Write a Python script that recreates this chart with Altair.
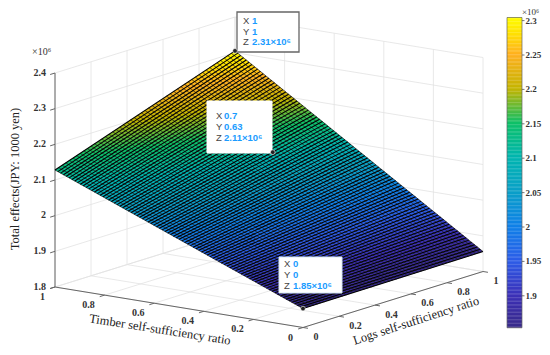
import altair as alt
import pandas as pd

# --- values ---
Z_CORNERS = [[1.853, 1.856], [2.128, 2.305]]  # rows: Timber (Y) 0,1; cols: Logs (X) 0,1
XY_TICKS = [0, 0.2, 0.4, 0.6, 0.8, 1]
XY_LABELS = ["0", "0.2", "0.4", "0.6", "0.8", "1"]
Z_TICKS = [1.8, 1.9, 2.0, 2.1, 2.2, 2.3, 2.4]
Z_LABELS = ["1.8", "1.9", "2", "2.1", "2.2", "2.3", "2.4"]
CB_TICKS = [1.9, 1.95, 2.0, 2.05, 2.1, 2.15, 2.2, 2.25, 2.3]
CB_LABELS = ["1.9", "1.95", "2", "2.05", "2.1", "2.15", "2.2", "2.25", "2.3"]
CMAP_Z = [1.853, 1.9, 1.95, 2.0, 2.05, 2.1, 2.15, 2.2, 2.25, 2.28, 2.305]
CMAP_C = ["#382a88", "#3c30b8", "#2c5ce8", "#0f80e8", "#0a9fc8", "#00b5b0", "#0cc068",
          "#c4b400", "#ffb020", "#ffe000", "#ffff00"]
TIPS_X = [1, 0.7, 0]
TIPS_Y = [1, 0.63, 0]
TIPS_Z = [2.305, 2.11, 1.853]
TIPS_LABEL = ["2.31×10⁶", "2.11×10⁶", "1.85×10⁶"]
TIPS_XS = ["1", "0.7", "0"]
TIPS_YS = ["1", "0.63", "0"]
NX, NY = 50, 88


# --- oblique 3-D view ---
def proj(x, y, z):
    return (303 + 180 * x - 248 * y,
            327.5 - 56 * x - 40.5 * y - (z - 1.8) / 0.6 * 214)


def surf(x, y):
    a, b = Z_CORNERS
    return (a[0] * (1 - x) * (1 - y) + a[1] * x * (1 - y)
            + b[0] * (1 - x) * y + b[1] * x * y)


def cb_y(z):
    return 227 - (z - 2.0) / 0.05 * 34.4


W, H = 534, 339
SX = alt.Scale(domain=[8, 8 + W], range=[0, W])
SY = alt.Scale(domain=[8, 8 + H], range=[0, H])
CS = alt.Scale(domain=CMAP_Z, range=CMAP_C, interpolate="rgb", clamp=True)
CB_L, CB_R = 507, 522


def enc_seg():
    return dict(x=alt.X("x:Q", scale=SX, axis=None), y=alt.Y("y:Q", scale=SY, axis=None),
                x2="x2:Q", y2="y2:Q")


def segs(rows, color, width):
    df = pd.DataFrame(rows, columns=["x", "y", "x2", "y2"])
    return alt.Chart(df).mark_rule(color=color, strokeWidth=width).encode(**enc_seg())


def texts(rows, **mark):
    df = pd.DataFrame(rows, columns=["x", "y", "t"])
    return alt.Chart(df).mark_text(**mark).encode(
        x=alt.X("x:Q", scale=SX, axis=None), y=alt.Y("y:Q", scale=SY, axis=None), text="t:N")


grid = []
for t in XY_TICKS:
    grid.append((*proj(t, 0, 1.8), *proj(t, 1, 1.8)))
    grid.append((*proj(0, t, 1.8), *proj(1, t, 1.8)))
    grid.append((*proj(t, 1, 1.8), *proj(t, 1, 2.4)))
    grid.append((*proj(1, t, 1.8), *proj(1, t, 2.4)))
for z in Z_TICKS:
    grid.append((*proj(0, 1, z), *proj(1, 1, z)))
    grid.append((*proj(1, 1, z), *proj(1, 0, z)))
grid_l = segs(grid, "#e2e2e2", 0.8)

ax = [(*proj(0, 0, 1.8), *proj(1, 0, 1.8)), (*proj(0, 0, 1.8), *proj(0, 1, 1.8)),
      (*proj(0, 1, 1.8), *proj(0, 1, 2.4))]
for t in XY_TICKS:
    ax.append((*proj(t, 0, 1.8), *proj(t, -0.02, 1.8)))
    ax.append((*proj(0, t, 1.8), *proj(-0.027, t, 1.8)))
for z in Z_TICKS:
    ax.append((*proj(0, 1, z), *proj(-0.027, 1, z)))
ax_l = segs(ax, "#666666", 1)

features = []
for i in range(NX):
    for j in range(NY):
        x0, x1 = i / NX, (i + 1) / NX
        y0, y1 = j / NY, (j + 1) / NY
        ring = [(x0, y0), (x1, y0), (x1, y1), (x0, y1), (x0, y0)]
        pts = [proj(a, b, surf(a, b)) for a, b in ring]
        features.append({"type": "Feature",
                         "properties": {"z": round(surf((x0 + x1) / 2, (y0 + y1) / 2), 4)},
                         "geometry": {"type": "Polygon",
                                      "coordinates": [[[round(p[0] - 8, 2), round(p[1] - 8, 2)] for p in pts[::-1]]]}})
surface = alt.Chart(alt.Data(values=features)).mark_geoshape(
    stroke="#000000", strokeWidth=0.15).encode(
    color=alt.Color("properties.z:Q", scale=CS, legend=None)
).project(type="identity", scale=1, translate=[0, 0])

mesh_y = segs([(*proj(0, j / NY, surf(0, j / NY)), *proj(1, j / NY, surf(1, j / NY))) for j in range(NY + 1)],
              "#000000", 1.05)
mesh_x = segs([(*proj(i / NX, 0, surf(i / NX, 0)), *proj(i / NX, 1, surf(i / NX, 1))) for i in range(NX + 1)],
              "#000000", 0.5)

n = 226
zs = [1.8535 + (2.3045 - 1.8535) * k / n for k in range(n + 1)]
cb = pd.DataFrame({"zc": zs[:-1]})
cb["y"] = [cb_y(a) for a in zs[:-1]]
cb["y2"] = [cb_y(a) - 1.6 for a in zs[:-1]]
cb["x"] = CB_L
cb["x2"] = CB_R
cbar = alt.Chart(cb).mark_rect().encode(
    **enc_seg(), color=alt.Color("zc:Q", scale=CS, legend=None))
cb_frame = pd.DataFrame({"x": [CB_L], "x2": [CB_R], "y": [cb_y(1.8535)], "y2": [cb_y(2.3045)]})
cbar_box = alt.Chart(cb_frame).mark_rect(fill=None, stroke="#666666", strokeWidth=0.7).encode(**enc_seg())
cb_tk = segs([(CB_R, cb_y(t), CB_R + 2.5, cb_y(t)) for t in CB_TICKS], "#555555", 0.8)

font = "Liberation Serif"
lab = dict(font=font, fontSize=10, fontWeight="bold", color="#333333", baseline="middle")
z_txt = texts([(46, proj(0, 1, z)[1] - 0.5, s) for z, s in zip(Z_TICKS, Z_LABELS)], align="right", **lab)
y_rows, x_rows = [], []
for t, s in zip(XY_TICKS, XY_LABELS):
    p = proj(0, t, 1.8)
    o = -16 if s not in ("0", "1") else -12.5
    y_rows.append((p[0] + o, p[1] + 10, s))
    p = proj(t, 0, 1.8)
    o = 16.5 if s not in ("0", "1") else 13
    x_rows.append((p[0] + o, p[1] + 9.5, s))
y_txt = texts(y_rows, align="center", **lab)
x_txt = texts(x_rows, align="center", **lab)
cb_txt = texts([(CB_R + 3.5, cb_y(t), s) for t, s in zip(CB_TICKS, CB_LABELS)], align="left",
               font=font, fontSize=9, fontWeight="bold", color="#333333", baseline="middle")
exp_txt = texts([(32, 52, "×10⁶")], align="left", font=font, fontSize=10,
                color="#333333", baseline="middle")
exp_txt2 = texts([(CB_R, 11.5, "×10⁶")], align="left", font=font, fontSize=9,
                 color="#333333", baseline="middle")

tt = dict(font=font, fontSize=12.5, color="#222222", baseline="middle", align="center")
t1 = texts([(160, 329.5, "Timber self-sufficiency ratio")], angle=9, **tt)
t2 = texts([(416, 320.5, "Logs self-sufficiency ratio")], angle=342, **tt)
t3 = texts([(15, 179, "Total effects(JPY: 1000 yen)")], angle=270, **tt)

boxes = [(237, 12, 299, 52, "#666666", 1.3), (207, 101, 272, 153, "#ffffff", 1), (279, 257, 342, 293, "#d4e6f4", 1)]
box_l = []
for b in boxes:
    d = pd.DataFrame({"x": [b[0]], "y": [b[1]], "x2": [b[2]], "y2": [b[3]]})
    box_l.append(alt.Chart(d).mark_rect(fill="#ffffff", stroke=b[4], strokeWidth=b[5]).encode(**enc_seg()))

tip_pos = [(243, 252, [21, 31.5, 42]), (216, 224, [116, 127, 137.5]), (284, 293, [264, 275, 286])]
letters, values = [], []
for k in range(3):
    lx, vx, ys = tip_pos[k]
    for name, val, yy in zip("XYZ", [TIPS_XS[k], TIPS_YS[k], TIPS_LABEL[k]], ys):
        letters.append((lx, yy, name))
        values.append((vx, yy, val))
let_t = texts(letters, align="left", baseline="middle", font="Liberation Sans", fontSize=9.5, color="#444444")
val_t = texts(values, align="left", baseline="middle", font="Liberation Sans", fontSize=9.5,
              fontWeight="bold", color="#1a9cff")
mk = pd.DataFrame([proj(a, b, c) for a, b, c in zip(TIPS_X, TIPS_Y, TIPS_Z)], columns=["x", "y"])
marks = alt.Chart(mk).mark_point(filled=True, fill="#222222", stroke="#ffffff", strokeWidth=0.6, size=22, opacity=1).encode(
    x=alt.X("x:Q", scale=SX, axis=None), y=alt.Y("y:Q", scale=SY, axis=None))

chart = alt.layer(
    grid_l, ax_l, surface, mesh_y, mesh_x, cbar, cbar_box, cb_tk, z_txt, y_txt, x_txt, cb_txt, exp_txt, exp_txt2, t1, t2, t3,
    *box_l, let_t, val_t, marks
).resolve_scale(color="shared").properties(
    width=W, height=H, padding=0, autosize=alt.AutoSizeParams(type="none"), background="#ffffff"
).configure_view(stroke=None)

chart.save("out.html", embed_options={"renderer": "svg", "actions": False})
